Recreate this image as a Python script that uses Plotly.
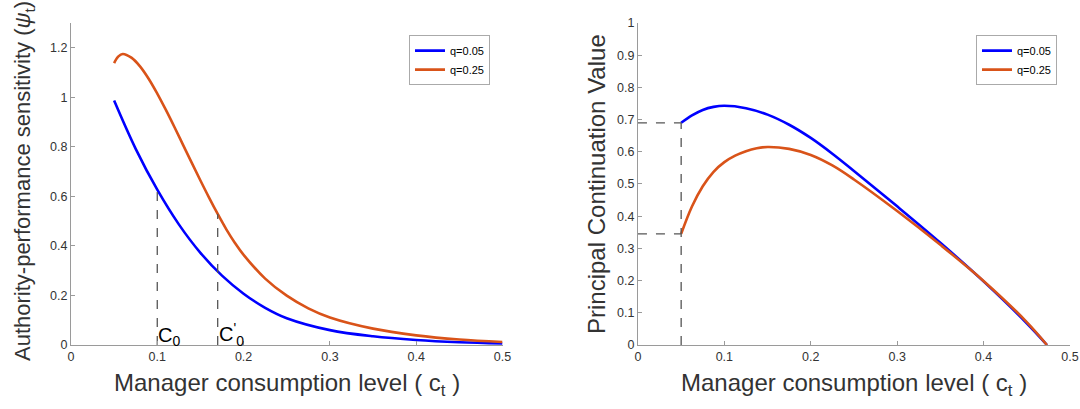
import plotly.graph_objects as go

# ---- data ----
c_L = [0.05, 0.075, 0.10, 0.125, 0.15, 0.175, 0.20, 0.225, 0.25, 0.30, 0.35, 0.40, 0.45, 0.50]
psi_q005 = [0.987, 0.792, 0.627, 0.487, 0.372, 0.280, 0.207, 0.150, 0.108, 0.060, 0.035, 0.020, 0.011, 0.006]

c_L2 = [0.05, 0.055, 0.06, 0.07, 0.08, 0.09, 0.10, 0.11, 0.12, 0.13, 0.14, 0.15, 0.16, 0.17, 0.18, 0.19,
        0.20, 0.225, 0.25, 0.275, 0.30, 0.35, 0.40, 0.45, 0.50]
psi_q025 = [1.138, 1.165, 1.175, 1.160, 1.125, 1.075, 1.015, 0.949, 0.879, 0.807, 0.735, 0.664, 0.595,
            0.529, 0.467, 0.412, 0.364, 0.268, 0.199, 0.148, 0.111, 0.066, 0.039, 0.022, 0.012]

c_R = [0.05, 0.0625, 0.075, 0.0875, 0.10, 0.125, 0.15, 0.175, 0.20, 0.225, 0.25, 0.30, 0.35, 0.40, 0.45, 0.4734]
pcv_q005 = [0.690, 0.713, 0.730, 0.7395, 0.743, 0.7355, 0.7155, 0.684, 0.643, 0.594, 0.5405, 0.4305,
            0.3175, 0.1975, 0.0675, 0.0]

c_R2 = [0.05, 0.0625, 0.075, 0.0875, 0.10, 0.1125, 0.125, 0.1375, 0.15, 0.175, 0.20, 0.225, 0.25,
        0.30, 0.35, 0.40, 0.45, 0.4734]
pcv_q025 = [0.345, 0.430, 0.493, 0.538, 0.568, 0.588, 0.602, 0.611, 0.615, 0.609, 0.590, 0.5575,
            0.514, 0.416, 0.311, 0.199, 0.0713, 0.0]

series_names = ["q=0.05", "q=0.25"]
left_yticks = [0, 0.2, 0.4, 0.6, 0.8, 1.0, 1.2]
left_yticklabels = ["0", "0.2", "0.4", "0.6", "0.8", "1", "1.2"]
right_yticks = [0, 0.1, 0.2, 0.3, 0.4, 0.5, 0.6, 0.7, 0.8, 0.9, 1.0]
right_yticklabels = ["0", "0.1", "0.2", "0.3", "0.4", "0.5", "0.6", "0.7", "0.8", "0.9", "1"]
xticks = [0, 0.1, 0.2, 0.3, 0.4, 0.5]
xticklabels = ["0", "0.1", "0.2", "0.3", "0.4", "0.5"]

c0, c0p = 0.10, 0.17
c0_val, c0p_val = 0.627, 0.529
c_start = 0.05
start_q005, start_q025 = 0.69, 0.345

BLUE = "#0000FF"
ORANGE = "#D95319"
FONT = "Liberation Sans, Arial, sans-serif"
AXC = "#9a9a9a"
TXT = "#333333"

fig = go.Figure()
lw = 2.6
sp = dict(shape="spline", smoothing=1.0)
fig.add_trace(go.Scatter(x=c_L, y=psi_q005, mode="lines", name=series_names[0],
                         line=dict(color=BLUE, width=lw, **sp),
                         xaxis="x", yaxis="y", legend="legend"))
fig.add_trace(go.Scatter(x=c_L2, y=psi_q025, mode="lines", name=series_names[1],
                         line=dict(color=ORANGE, width=lw, **sp),
                         xaxis="x", yaxis="y", legend="legend"))
fig.add_trace(go.Scatter(x=c_R, y=pcv_q005, mode="lines", name=series_names[0],
                         line=dict(color=BLUE, width=lw, **sp),
                         xaxis="x2", yaxis="y2", legend="legend2"))
fig.add_trace(go.Scatter(x=c_R2, y=pcv_q025, mode="lines", name=series_names[1],
                         line=dict(color=ORANGE, width=lw, **sp),
                         xaxis="x2", yaxis="y2", legend="legend2"))

dash = dict(color="#555555", width=1.3, dash="dash")
fig.add_trace(go.Scatter(x=[c0, c0], y=[0, c0_val], mode="lines", line=dash,
                         showlegend=False, hoverinfo="skip", xaxis="x", yaxis="y"))
fig.add_trace(go.Scatter(x=[c0p, c0p], y=[0, c0p_val], mode="lines", line=dash,
                         showlegend=False, hoverinfo="skip", xaxis="x", yaxis="y"))
fig.add_trace(go.Scatter(x=[c_start, c_start], y=[0, start_q005], mode="lines", line=dash,
                         showlegend=False, hoverinfo="skip", xaxis="x2", yaxis="y2"))
fig.add_trace(go.Scatter(x=[0, c_start], y=[start_q005, start_q005], mode="lines", line=dash,
                         showlegend=False, hoverinfo="skip", xaxis="x2", yaxis="y2"))
fig.add_trace(go.Scatter(x=[0, c_start], y=[start_q025, start_q025], mode="lines", line=dash,
                         showlegend=False, hoverinfo="skip", xaxis="x2", yaxis="y2"))

ydom = [0.1565, 0.9438]
common = dict(showline=True, linecolor=AXC, linewidth=1, ticks="inside", ticklen=4,
              tickcolor=AXC, showgrid=False, zeroline=False, automargin=False,
              tickfont=dict(family=FONT, size=12.5, color=TXT))
common_x = dict(range=[0, 0.5], tickvals=xticks, ticktext=xticklabels, **common)

fig.update_layout(
    width=1080, height=409,
    margin=dict(l=0, r=0, t=0, b=0, autoexpand=False),
    paper_bgcolor="white", plot_bgcolor="white",
    font=dict(family=FONT, color=TXT),
    xaxis=dict(domain=[0.0657, 0.4653], anchor="y", **common_x),
    yaxis=dict(domain=ydom, anchor="x", range=[0, 1.3], tickvals=left_yticks,
               ticktext=left_yticklabels, **common),
    xaxis2=dict(domain=[0.5907, 0.9907], anchor="y2", **common_x),
    yaxis2=dict(domain=ydom, anchor="x2", range=[0, 1.0], tickvals=right_yticks,
                ticktext=right_yticklabels, **common),
    legend=dict(x=0.4537, y=0.914, xanchor="right", yanchor="top",
                bgcolor="white", bordercolor="#aaaaaa", borderwidth=1,
                font=dict(family=FONT, size=11, color="#000"), tracegroupgap=0,
                itemwidth=30),
    legend2=dict(x=0.9787, y=0.914, xanchor="right", yanchor="top",
                 bgcolor="white", bordercolor="#aaaaaa", borderwidth=1,
                 font=dict(family=FONT, size=11, color="#000"), tracegroupgap=0,
                 itemwidth=30),
    showlegend=True,
)

def px_x(p):
    return p / 1080.0

def px_y(p):
    return 1 - p / 409.0

xtitle = "Manager consumption level ( c<sub>t</sub> )"
fig.add_annotation(x=px_x(287), y=px_y(384), xref="paper", yref="paper", text=xtitle,
                   showarrow=False, xanchor="center", yanchor="middle",
                   font=dict(family=FONT, size=24, color=TXT))
fig.add_annotation(x=px_x(854), y=px_y(384), xref="paper", yref="paper", text=xtitle,
                   showarrow=False, xanchor="center", yanchor="middle",
                   font=dict(family=FONT, size=24, color=TXT))
fig.add_annotation(x=px_x(24), y=px_y(181), xref="paper", yref="paper",
                   text="Authority-performance sensitivity (<i>ψ</i><sub>t</sub>)",
                   showarrow=False, textangle=-90, xanchor="center", yanchor="middle",
                   font=dict(family=FONT, size=22, color=TXT))
fig.add_annotation(x=px_x(596), y=px_y(184), xref="paper", yref="paper",
                   text="Principal Continuation Value",
                   showarrow=False, textangle=-90, xanchor="center", yanchor="middle",
                   font=dict(family=FONT, size=24, color=TXT))

# C0 labels
fig.add_annotation(x=c0, y=0, xref="x", yref="y", text="C<sub>0</sub>", showarrow=False,
                   xanchor="left", yanchor="bottom", xshift=-1, yshift=-6,
                   font=dict(family=FONT, size=20, color="#000"))
fig.add_annotation(x=c0p, y=0, xref="x", yref="y", text="C<sup>'</sup><sub>0</sub>",
                   showarrow=False, xanchor="left", yanchor="bottom", xshift=-1, yshift=-6,
                   font=dict(family=FONT, size=20, color="#000"))

fig.write_html("out.html")
